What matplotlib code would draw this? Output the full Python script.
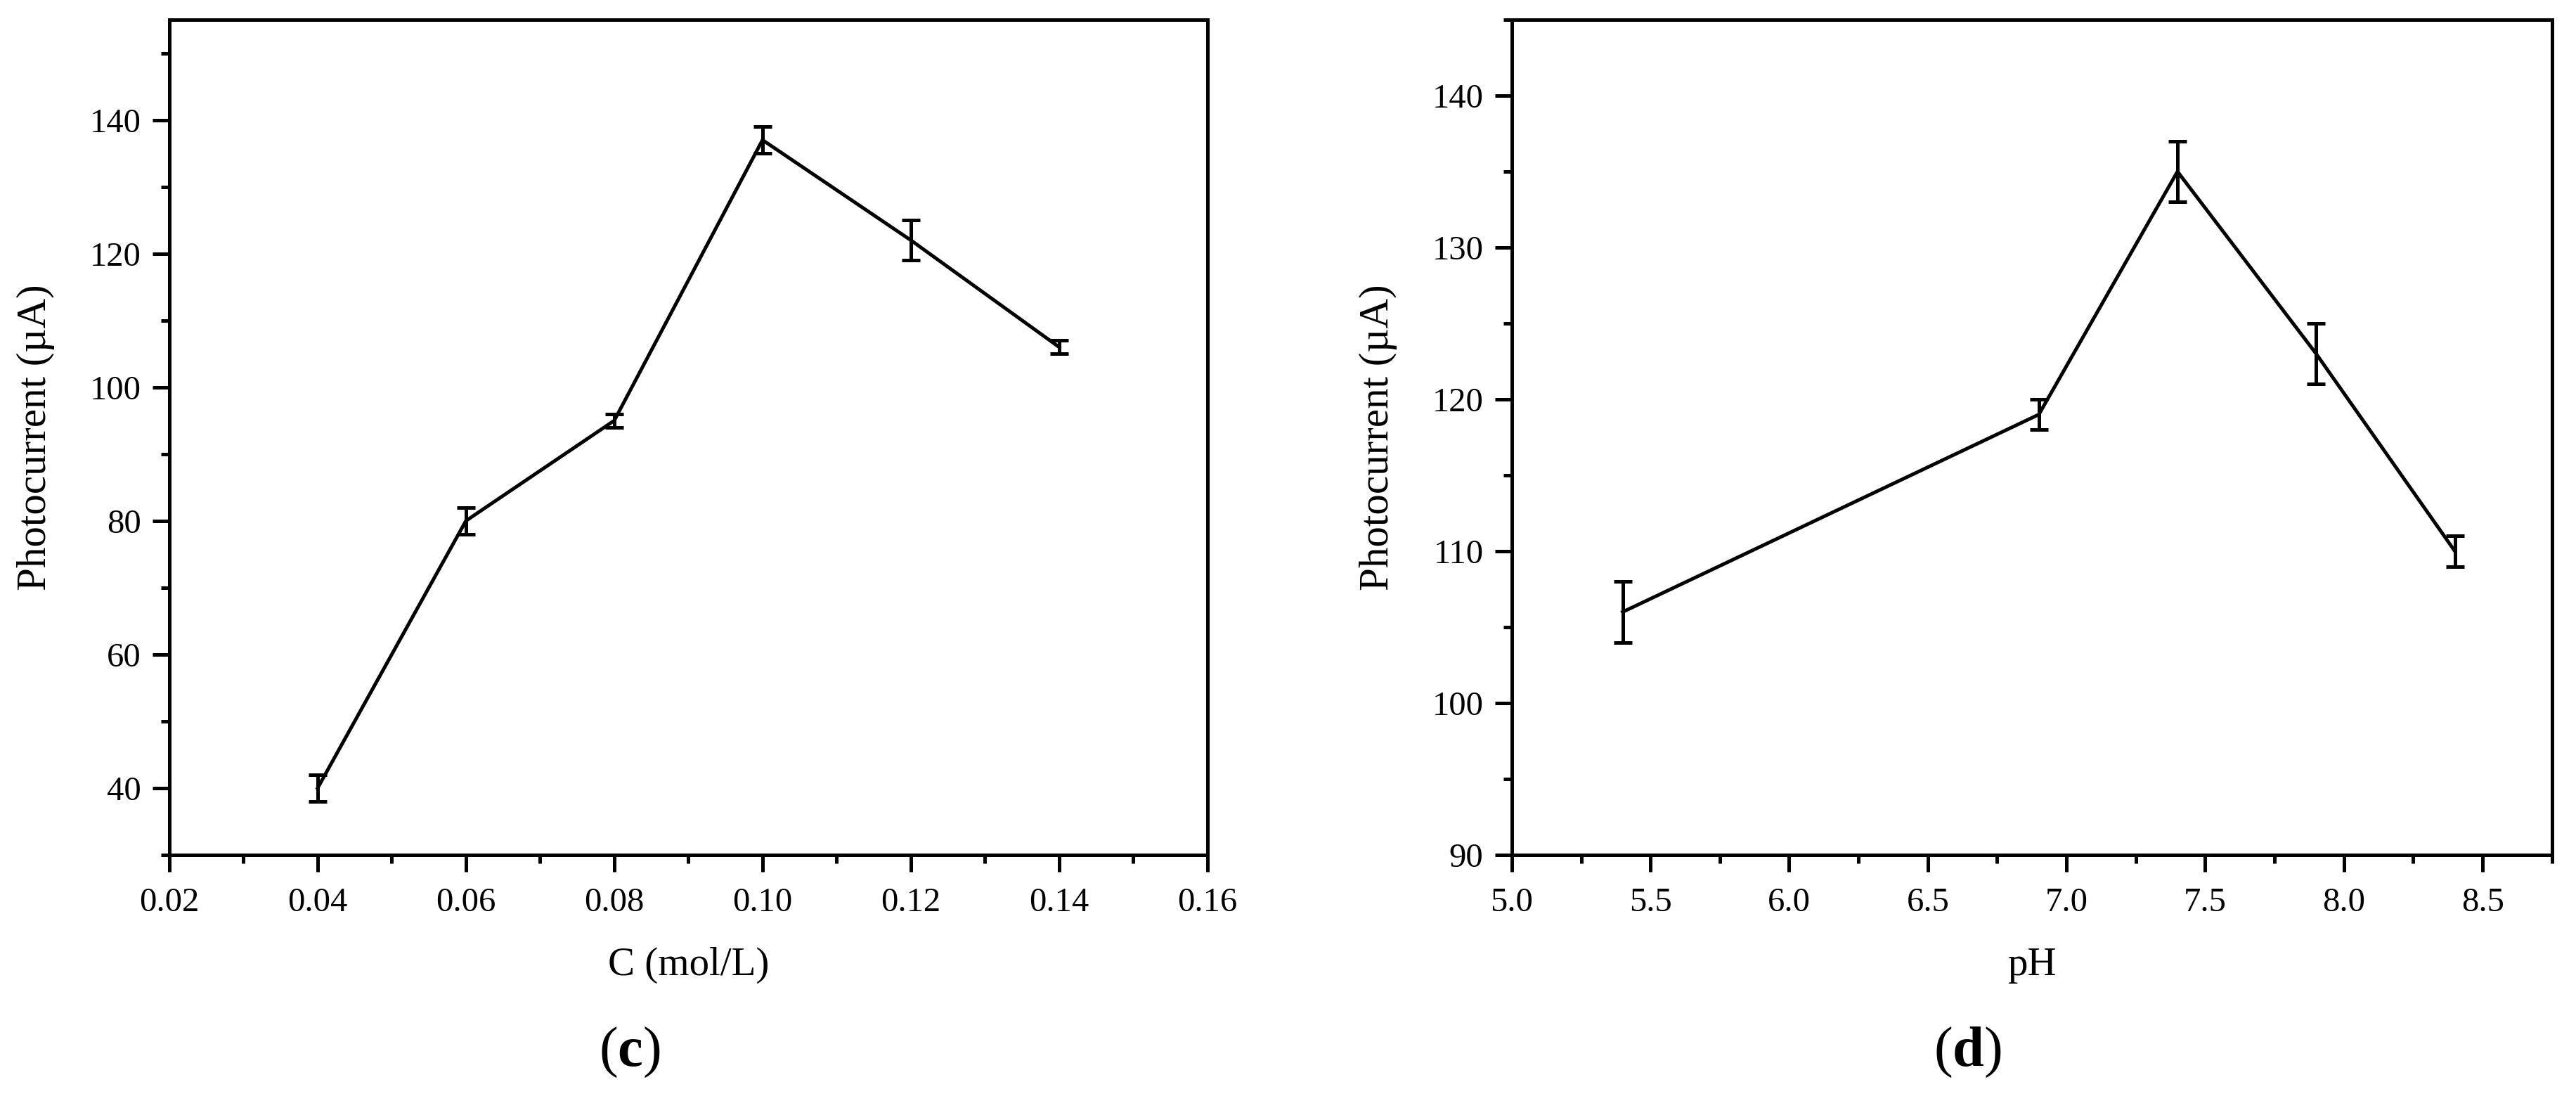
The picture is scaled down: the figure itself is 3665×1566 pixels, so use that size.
import matplotlib
matplotlib.use("Agg")
import matplotlib.pyplot as plt
from matplotlib.ticker import MultipleLocator, FormatStrFormatter

# --- datos ---
# panel (c): concentracion
conc = [0.04, 0.06, 0.08, 0.10, 0.12, 0.14]
corriente_c = [40, 80, 95, 137, 122, 106]
error_c = [2, 2, 1, 2, 3, 1]

# panel (d): pH
ph = [5.4, 6.9, 7.4, 7.9, 8.4]
corriente_d = [106, 119, 135, 123, 110]
error_d = [2, 1, 2, 2, 1]

plt.rcParams['font.family'] = ['Liberation Serif', 'DejaVu Serif']
plt.rcParams['mathtext.fontset'] = 'custom'
plt.rcParams['mathtext.rm'] = 'Liberation Serif'
plt.rcParams['mathtext.bf'] = 'Liberation Serif:bold'

fig = plt.figure(figsize=(36.66, 15.66), dpi=100)

def estilo(ax):
    for s in ax.spines.values():
        s.set_linewidth(3.6)
    ax.tick_params(which='both', direction='out', width=3.6, labelsize=35,
                   top=False, right=False)
    ax.tick_params(which='major', length=17)
    ax.tick_params(which='minor', length=8.5)
    ax.tick_params(axis='x', which='both', pad=16)
    ax.tick_params(axis='y', which='both', pad=12)
    # posicion fija de los titulos de ejes
    ax.xaxis.set_label_coords(0.5, -0.110)
    ax.yaxis.set_label_coords(-0.110, 0.5)

# --- panel (c) ---
ax1 = fig.add_axes([0.0657, 0.2235, 0.4029, 0.7586])
ax1.errorbar(conc, corriente_c, yerr=error_c, color='black', lw=3.6,
             capsize=9.5, capthick=3.6, elinewidth=3.6)
ax1.set_xlim(0.02, 0.16)
ax1.set_ylim(30, 155)
ax1.xaxis.set_major_locator(MultipleLocator(0.02))
ax1.xaxis.set_minor_locator(MultipleLocator(0.01))
ax1.yaxis.set_major_locator(MultipleLocator(20))
ax1.yaxis.set_minor_locator(MultipleLocator(10))
ax1.xaxis.set_major_formatter(FormatStrFormatter('%.2f'))
ax1.set_yticks([40, 60, 80, 100, 120, 140])
ax1.set_xlabel('C (mol/L)', fontsize=41)
ax1.set_ylabel('Photocurrent (\u00b5A)', fontsize=42.5)
estilo(ax1)
fig.text(0.2443, 0.044, r'($\mathbf{c}$)', fontsize=58, ha='center', va='center')

# --- panel (d) ---
ax2 = fig.add_axes([0.5867, 0.2235, 0.4037, 0.7586])
ax2.errorbar(ph, corriente_d, yerr=error_d, color='black', lw=3.6,
             capsize=9.5, capthick=3.6, elinewidth=3.6)
ax2.set_xlim(5.0, 8.75)
ax2.set_ylim(90, 145)
ax2.xaxis.set_major_locator(MultipleLocator(0.5))
ax2.xaxis.set_minor_locator(MultipleLocator(0.25))
ax2.yaxis.set_major_locator(MultipleLocator(10))
ax2.yaxis.set_minor_locator(MultipleLocator(5))
ax2.xaxis.set_major_formatter(FormatStrFormatter('%.1f'))
ax2.set_xlabel('pH', fontsize=41)
ax2.set_ylabel('Photocurrent (\u00b5A)', fontsize=42.5)
estilo(ax2)
fig.text(0.7635, 0.044, r'($\mathbf{d}$)', fontsize=58, ha='center', va='center')

fig.savefig('out.png', dpi=100)
